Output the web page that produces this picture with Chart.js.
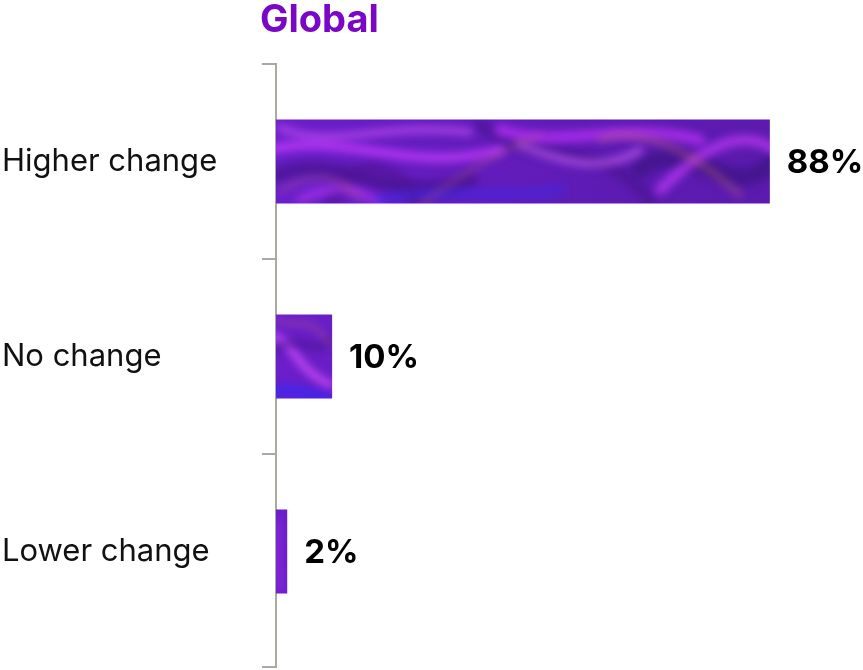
<!DOCTYPE html>
<html>
<head>
<meta charset="utf-8">
<script src="https://cdn.jsdelivr.net/npm/chart.js@4"></script>
<style>
  html, body { margin: 0; padding: 0; background: #fff; }
  #wrap { width: 863px; height: 670px; position: relative; }
</style>
</head>
<body>
<div id="wrap"><canvas id="globalChart"></canvas></div>
<script>
// 数据
const categories = ['Higher change', 'No change', 'Lower change'];
const shares = [88, 10, 2];
const valueLabels = ['88%', '10%', '2%'];
const chartTitle = 'Global';

// 紫色丝绸质感的填充图案
function makeSatinPattern(ctx) {
    const c = document.createElement('canvas');
    c.width = 863;
    c.height = 670;
    const g = c.getContext('2d');
    const base = g.createLinearGradient(0, 0, 863, 0);
    base.addColorStop(0, '#7a26e0');
    base.addColorStop(0.35, '#6a1ec8');
    base.addColorStop(0.7, '#5e1bb4');
    base.addColorStop(1, '#5a1aaa');
    g.fillStyle = base;
    g.fillRect(0, 0, 863, 670);

    g.filter = 'blur(4px)';
    const streaks = [
        // 深色褶皱
        ['rgba(70,20,140,0.7)', 16, [[276, 175], [340, 150], [400, 210], [470, 180]]],
        ['rgba(70,20,140,0.6)', 12, [[480, 125], [540, 170], [590, 130], [650, 200]]],
        ['rgba(60,20,130,0.7)', 18, [[640, 170], [690, 130], [730, 210], [775, 160]]],
        ['rgba(80,20,150,0.6)', 14, [[330, 205], [360, 160], [380, 150], [420, 205]]],
        // 亮紫高光
        ['rgba(200,60,255,0.8)', 9, [[270, 150], [340, 130], [410, 175], [500, 150]]],
        ['rgba(215,90,255,0.7)', 6, [[280, 128], [330, 150], [380, 122], [470, 132]]],
        ['rgba(190,50,250,0.75)', 11, [[500, 130], [560, 150], [620, 120], [700, 140]]],
        ['rgba(220,110,255,0.6)', 7, [[520, 145], [560, 160], [600, 175], [640, 150]]],
        ['rgba(200,60,255,0.7)', 10, [[660, 190], [700, 150], [740, 125], [775, 150]]],
        ['rgba(190,60,250,0.6)', 8, [[300, 200], [340, 180], [360, 190], [380, 204]]],
        // 蓝色和橙色反光
        ['rgba(60,40,235,0.55)', 10, [[380, 200], [440, 185], [500, 200], [560, 190]]],
        ['rgba(190,100,120,0.55)', 5, [[600, 140], [640, 125], [690, 150], [740, 195]]],
        ['rgba(190,100,120,0.45)', 4, [[420, 205], [460, 175], [500, 150], [540, 135]]],
        ['rgba(190,100,130,0.45)', 4, [[280, 190], [320, 170], [340, 175], [360, 200]]],
        // 第二根柱
        ['rgba(210,80,255,0.8)', 8, [[270, 335], [300, 345], [290, 365], [330, 385]]],
        ['rgba(70,20,140,0.6)', 8, [[276, 350], [300, 330], [315, 360], [330, 340]]],
        ['rgba(60,40,240,0.8)', 12, [[270, 395], [290, 385], [305, 395], [330, 400]]],
        ['rgba(190,100,130,0.5)', 4, [[275, 320], [300, 330], [310, 312], [330, 345]]],
        // 第三根柱
        ['rgba(200,60,255,0.7)', 3, [[276, 520], [280, 540], [276, 560], [280, 590]]]
    ];
    streaks.forEach(([col, w, p]) => {
        g.strokeStyle = col;
        g.lineWidth = w;
        g.lineCap = 'round';
        g.beginPath();
        g.moveTo(p[0][0], p[0][1]);
        g.bezierCurveTo(p[1][0], p[1][1], p[2][0], p[2][1], p[3][0], p[3][1]);
        g.stroke();
    });
    g.filter = 'none';
    return ctx.createPattern(c, 'no-repeat');
}

// 坐标轴（画在柱子下面）
const axisPlugin = {
    id: 'axisLine',
    beforeDatasetsDraw(chart) {
        const ctx = chart.ctx;
        const y = chart.scales.y;
        const area = chart.chartArea;
        const axisX = area.left;
        const bottom = 667;
        ctx.save();
        ctx.strokeStyle = '#a9aaa2';
        ctx.lineWidth = 2;
        ctx.beginPath();
        ctx.moveTo(axisX, area.top);
        ctx.lineTo(axisX, bottom);
        const band = (y.getPixelForValue(1) - y.getPixelForValue(0));
        const marks = [area.top, y.getPixelForValue(0) + band / 2, y.getPixelForValue(1) + band / 2, bottom];
        marks.forEach(m => {
            ctx.moveTo(axisX - 14, m);
            ctx.lineTo(axisX + 1, m);
        });
        ctx.stroke();
        ctx.restore();
    }
};

// 标题和数值标签
const labelPlugin = {
    id: 'valueLabels',
    afterDatasetsDraw(chart) {
        const ctx = chart.ctx;
        ctx.save();
        ctx.fillStyle = '#7a06c6';
        ctx.font = 'bold 38px "Inter", "Roboto", sans-serif';
        ctx.textAlign = 'left';
        ctx.textBaseline = 'alphabetic';
        ctx.fillText(chartTitle, 260, 32);

        const meta = chart.getDatasetMeta(0);
        ctx.fillStyle = '#000';
        ctx.font = 'bold 33px "Inter", "Roboto", sans-serif';
        ctx.textBaseline = 'middle';
        meta.data.forEach((bar, i) => {
            ctx.fillText(valueLabels[i], bar.x + 17, bar.y + 2);
        });
        ctx.restore();
    }
};

const canvas = document.getElementById('globalChart');
const pattern = makeSatinPattern(canvas.getContext('2d'));

new Chart(canvas, {
    type: 'bar',
    data: {
        labels: categories,
        datasets: [{
            data: shares,
            backgroundColor: pattern,
            borderWidth: 0,
            barPercentage: 0.431,
            categoryPercentage: 1
        }]
    },
    options: {
        indexAxis: 'y',
        responsive: true,
        maintainAspectRatio: false,
        animation: false,
        layout: {
            padding: { top: 64, bottom: 21, left: 2, right: 0 }
        },
        plugins: {
            legend: { display: false },
            tooltip: { enabled: false },
            title: { display: false }
        },
        scales: {
            x: {
                display: false,
                min: 0,
                max: 104.6
            },
            y: {
                grid: { display: false },
                border: { display: false },
                afterFit(scale) {
                    scale.width = 274;
                },
                ticks: {
                    crossAlign: 'far',
                    color: '#111',
                    padding: 0,
                    font: { family: '"Inter", "Roboto", sans-serif', size: 31 }
                }
            }
        }
    },
    plugins: [axisPlugin, labelPlugin]
});
</script>
</body>
</html>
